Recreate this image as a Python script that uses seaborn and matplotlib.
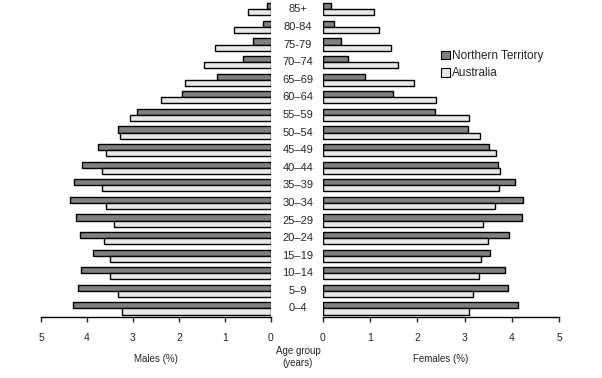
import pandas as pd
import matplotlib.pyplot as plt
import matplotlib.transforms as mtransforms
import seaborn as sns

# -------------------------
# Data, top row first
# -------------------------
ages = ["85+", "80-84", "75-79", "70–74", "65–69", "60–64", "55–59", "50–54", "45–49",
        "40–44", "35–39", "30–34", "25–29", "20–24", "15–19", "10–14", "5–9", "0–4"]
nt_males = [0.09, 0.17, 0.39, 0.61, 1.18, 1.94, 2.92, 3.33, 3.77,
            4.10, 4.29, 4.36, 4.25, 4.16, 3.86, 4.12, 4.20, 4.31]
aus_males = [0.50, 0.81, 1.22, 1.46, 1.87, 2.40, 3.07, 3.29, 3.59,
             3.68, 3.68, 3.59, 3.42, 3.62, 3.51, 3.49, 3.33, 3.25]
nt_females = [0.18, 0.24, 0.39, 0.54, 0.90, 1.49, 2.37, 3.07, 3.51,
              3.70, 4.06, 4.23, 4.21, 3.94, 3.53, 3.85, 3.92, 4.13]
aus_females = [1.07, 1.18, 1.45, 1.58, 1.92, 2.39, 3.09, 3.32, 3.66,
               3.75, 3.72, 3.64, 3.38, 3.49, 3.34, 3.30, 3.17, 3.09]
series = ["Northern Territory", "Australia"]
ticks = [0, 1, 2, 3, 4, 5]

df = pd.concat([
    pd.DataFrame({"age": ages, "series": series[0], "male": nt_males, "female": nt_females}),
    pd.DataFrame({"age": ages, "series": series[1], "male": aus_males, "female": aus_females}),
])

sns.set_style("white")
plt.rcParams["font.family"] = ["Liberation Sans", "DejaVu Sans"]
plt.rcParams["font.size"] = 7.5

palette = {"Northern Territory": "#808080", "Australia": "#e8e8e8"}

fig = plt.figure(figsize=(6.02, 3.78), dpi=100)
bottom, height = 0.1606, 0.838
ax_l = fig.add_axes([41 / 602, bottom, 230 / 602, height])
ax_r = fig.add_axes([323 / 602, bottom, 236 / 602, height])

# ==========================
# Males (left) and Females (right)
# ==========================
sns.barplot(data=df, y="age", x="male", hue="series", order=ages, hue_order=series,
            palette=palette, orient="h", width=0.7, edgecolor="black", linewidth=1,
            legend=False, ax=ax_l)
sns.barplot(data=df, y="age", x="female", hue="series", order=ages, hue_order=series,
            palette=palette, orient="h", width=0.7, edgecolor="black", linewidth=1,
            ax=ax_r)

ax_l.set_xlim(5, 0)
ax_r.set_xlim(0, 5)
for ax in (ax_l, ax_r):
    ax.set_xticks(ticks)
    ax.set_yticks([])
    ax.set_xlabel("")
    ax.set_ylabel("")
    for s in ("top", "left", "right"):
        ax.spines[s].set_visible(False)
    ax.spines["bottom"].set_linewidth(1)
    ax.spines["bottom"].set_color("black")
    ax.tick_params(axis="x", direction="out", length=3.5, width=1, pad=8,
                   labelsize=7.5, bottom=True)

# age group labels in the gap between panels
trans = mtransforms.blended_transform_factory(fig.transFigure, ax_r.transData)
for i, a in enumerate(ages):
    ax_r.text(298 / 602, i, a, transform=trans, ha="center", va="center", fontsize=8)

fig.text(156 / 602, 1 - 359 / 378, "Males (%)", ha="center", va="center", fontsize=7)
fig.text(441 / 602, 1 - 359 / 378, "Females (%)", ha="center", va="center", fontsize=7)
fig.text(298 / 602, 1 - 357 / 378, "Age group\n(years)", ha="center", va="center",
         fontsize=7, linespacing=1.3)

leg = ax_r.legend(loc="upper left", bbox_to_anchor=(441 / 602, 1 - 50 / 378),
                  bbox_transform=fig.transFigure, frameon=False, fontsize=8.5,
                  handlelength=0.75, handleheight=0.75, handletextpad=0.2,
                  labelspacing=0.45, borderpad=0, borderaxespad=0)
for h in leg.legend_handles:
    h.set_edgecolor("black")
    h.set_linewidth(0.8)

fig.savefig("out.png", dpi=100)
